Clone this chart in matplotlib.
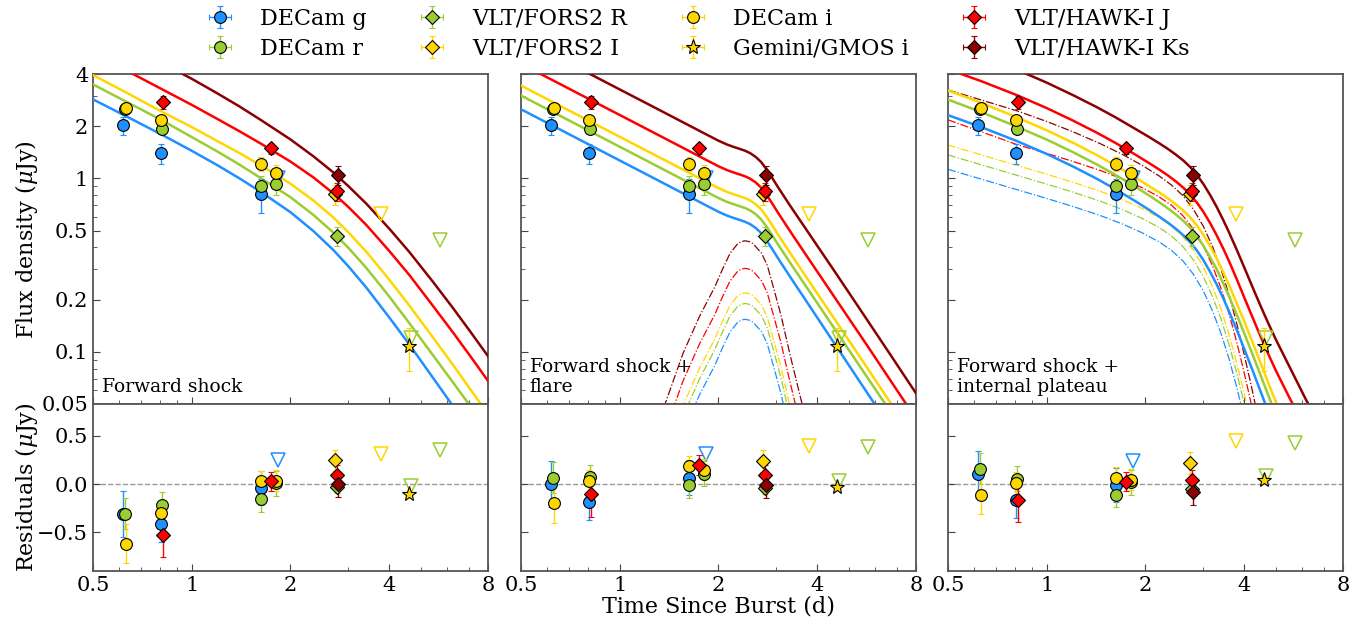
import matplotlib.pyplot as plt
import numpy as np
from matplotlib.ticker import FixedLocator, FixedFormatter, NullFormatter

plt.rcParams['font.family'] = 'DejaVu Serif'
plt.rcParams['mathtext.fontset'] = 'dejavuserif'

# band colours: g, r, i, J, Ks
c_g = '#1e90ff'
c_r = '#9acd32'
c_i = '#ffd700'
c_j = '#ff0000'
c_k = '#8b0000'
band_colors = [c_g, c_r, c_i, c_j, c_k]

# ---- photometry (days, uJy); residuals per panel [FS, FS+flare, FS+plateau]
g_t = [0.619, 0.806, 1.63]
g_f = [2.03, 1.40, 0.81]
g_e = [0.24, 0.19, 0.18]
g_res = [[-0.31, -0.41, -0.04], [0.0, -0.18, 0.065], [0.10, -0.16, -0.01]]

r_t = [0.625, 0.81, 1.63, 1.81]
r_f = [2.51, 1.94, 0.905, 0.93]
r_e = [0.16, 0.13, 0.13, 0.13]
r_res = [[-0.307, -0.213, -0.158, 0.01], [0.065, 0.07, -0.014, 0.107], [0.16, 0.055, -0.11, 0.02]]

i_t = [0.629, 0.807, 1.63, 1.81]
i_f = [2.56, 2.17, 1.22, 1.08]
i_e = [0.2, 0.12, 0.11, 0.11]
i_res = [[-0.617, -0.30, 0.028, 0.035], [-0.20, 0.03, 0.186, 0.15], [-0.11, 0.01, 0.065, 0.045]]

fr_t = [2.77]
fr_f = [0.467]
fr_e = [0.06]
fr_res = [[-0.031], [-0.04], [-0.05]]

fi_t = [2.73]
fi_f = [0.81]
fi_e = [0.11]
fi_res = [[0.245], [0.24], [0.22]]

j_t = [0.819, 1.75, 2.78]
j_f = [2.76, 1.49, 0.846]
j_e = [0.23, 0.1, 0.1]
j_res = [[-0.524, 0.028, 0.097], [-0.107, 0.197, 0.093], [-0.16, 0.024, 0.045]]

k_t = [2.80]
k_f = [1.05]
k_e = [0.13]
k_res = [[0.0], [-0.014], [-0.086]]

gm_t = [4.61]
gm_f = [0.108]
gm_e = [0.03]
gm_res = [[-0.10], [-0.03], [0.04]]

# upper limits
gul_t = [1.83]
gul_f = [1.0]
gul_res = [[0.245], [0.31], [0.24]]
rul_t = [4.65, 5.71]
rul_f = [0.12, 0.44]
rul_res = [[-0.02, 0.356], [0.03, 0.38], [0.08, 0.43]]
iul_t = [3.77]
iul_f = [0.62]
iul_res = [[0.315], [0.39], [0.45]]

# ---- model curves (g, r, i, J, Ks)
t_left = [0.5, 0.63, 0.81, 1.0, 1.2, 1.4, 1.63, 2.0, 2.35, 2.7, 3.0, 3.41, 4.0, 4.61, 5.45, 6.27, 7.05, 8.0]
fs_left = [
    [2.86, 2.29, 1.79, 1.445, 1.19, 1.0, 0.833, 0.639, 0.497, 0.3875, 0.312, 0.234, 0.158, 0.11,
     0.0704, 0.0484, 0.0352, 0.025],
    [3.49, 2.78, 2.17, 1.734, 1.428, 1.2, 1.0, 0.78, 0.616, 0.488, 0.399, 0.304, 0.2086, 0.146,
     0.095, 0.0663, 0.0489, 0.035],
    [3.95, 3.14, 2.43, 1.98, 1.64, 1.40, 1.183, 0.933, 0.746, 0.597, 0.49, 0.377, 0.261, 0.1845,
     0.1204, 0.0837, 0.0612, 0.0438],
    [5.29, 4.21, 3.28, 2.66, 2.2, 1.87, 1.583, 1.252, 1.014, 0.8215, 0.686, 0.538, 0.382, 0.277,
     0.183, 0.1287, 0.095, 0.068],
    [7.44, 5.95, 4.65, 3.76, 3.09, 2.6, 2.166, 1.68, 1.342, 1.085, 0.905, 0.714, 0.514, 0.376,
     0.252, 0.178, 0.1316, 0.0945],
]

t_mid = [0.5, 0.63, 0.81, 1.0, 1.24, 1.62, 1.85, 2.0, 2.12, 2.22, 2.32, 2.41, 2.5, 2.6, 2.7, 2.8,
         2.92, 3.05, 3.3, 3.54, 4.58, 5.66, 6.67, 8.0]
fs_mid = [
    [2.51, 2.0, 1.563, 1.271, 1.029, 0.791, 0.694, 0.643, 0.612, 0.593, 0.577, 0.563, 0.545, 0.518,
     0.484, 0.4415, 0.391, 0.343, 0.273, 0.2236, 0.1073, 0.0587, 0.0368, 0.0219],
    [3.01, 2.4, 1.876, 1.525, 1.235, 0.949, 0.833, 0.772, 0.734, 0.712, 0.692, 0.676, 0.654, 0.622,
     0.581, 0.53, 0.469, 0.412, 0.329, 0.27, 0.131, 0.0722, 0.0456, 0.0272],
    [3.44, 2.74, 2.141, 1.741, 1.41, 1.084, 0.951, 0.881, 0.838, 0.812, 0.79, 0.771, 0.747, 0.71,
     0.663, 0.605, 0.536, 0.47, 0.375, 0.307, 0.149, 0.0818, 0.0514, 0.0307],
    [4.59, 3.66, 2.86, 2.326, 1.883, 1.448, 1.27, 1.177, 1.12, 1.085, 1.056, 1.03, 0.997, 0.948,
     0.886, 0.808, 0.716, 0.628, 0.5, 0.41, 0.199, 0.110, 0.069, 0.0412],
    [6.45, 5.14, 4.017, 3.266, 2.645, 2.033, 1.784, 1.653, 1.573, 1.524, 1.483, 1.447, 1.4, 1.331,
     1.244, 1.135, 1.005, 0.882, 0.702, 0.577, 0.281, 0.1545, 0.097, 0.0578],
]
t_flare = [1.25, 1.374, 1.56, 1.75, 1.95, 2.05, 2.17, 2.29, 2.35, 2.41, 2.48, 2.55, 2.71, 2.82,
           2.94, 3.10, 3.30, 3.60, 3.85]
flare = [
    [0.00847, 0.01756, 0.0345, 0.0562, 0.0835, 0.1038, 0.1304, 0.1481, 0.1525, 0.154, 0.1525,
     0.1483, 0.1304, 0.1109, 0.0835, 0.0578, 0.0345, 0.01756, 0.00847],
    [0.01045, 0.02166, 0.0426, 0.0694, 0.103, 0.128, 0.161, 0.1828, 0.1881, 0.19, 0.1881, 0.183,
     0.161, 0.1368, 0.103, 0.0713, 0.0426, 0.02166, 0.01045],
    [0.01205, 0.025, 0.0491, 0.0799, 0.1187, 0.1476, 0.1855, 0.2107, 0.2168, 0.219, 0.2168, 0.2109,
     0.1855, 0.1577, 0.1187, 0.0821, 0.0491, 0.025, 0.01205],
    [0.01667, 0.0345, 0.0679, 0.1106, 0.1642, 0.2042, 0.2566, 0.2915, 0.3, 0.303, 0.3, 0.2918,
     0.2566, 0.2182, 0.1642, 0.1136, 0.0679, 0.0345, 0.01667],
    [0.02404, 0.0498, 0.0979, 0.1595, 0.2369, 0.2945, 0.3701, 0.4204, 0.4326, 0.437, 0.4326, 0.4208,
     0.3701, 0.3146, 0.2369, 0.1639, 0.0979, 0.0498, 0.02404],
]

t_right = [0.5, 0.63, 0.81, 1.0, 1.2, 1.42, 1.62, 1.85, 2.05, 2.21, 2.35, 2.48, 2.61, 2.74, 2.87,
           3.0, 3.15, 3.3, 3.45, 3.6, 3.8, 4.0, 4.25, 4.5, 4.75, 5.0, 5.5, 6.2, 7.0, 8.0]
fs_right = [
    [2.32, 1.983, 1.646, 1.385, 1.175, 0.997, 0.867, 0.746, 0.66, 0.60, 0.553, 0.511, 0.47, 0.428,
     0.384, 0.339, 0.289, 0.244, 0.204, 0.170, 0.133, 0.104, 0.0774, 0.0582, 0.0444, 0.0345,
     0.0221, 0.013, 0.0079, 0.0048],
    [2.854, 2.419, 1.992, 1.676, 1.422, 1.206, 1.049, 0.903, 0.799, 0.726, 0.669, 0.618, 0.569,
     0.518, 0.465, 0.41, 0.351, 0.298, 0.249, 0.208, 0.163, 0.128, 0.0956, 0.0722, 0.0553, 0.0431,
     0.0276, 0.0163, 0.0099, 0.006],
    [3.22, 2.737, 2.255, 1.897, 1.61, 1.366, 1.188, 1.022, 0.904, 0.828, 0.764, 0.708, 0.653, 0.595,
     0.535, 0.4745, 0.406, 0.344, 0.2885, 0.2415, 0.1892, 0.150, 0.1122, 0.085, 0.0652, 0.0511,
     0.0329, 0.0194, 0.0118, 0.0072],
    [4.27, 3.649, 3.029, 2.548, 2.162, 1.839, 1.604, 1.384, 1.228, 1.122, 1.036, 0.959, 0.884, 0.807,
     0.726, 0.644, 0.552, 0.4685, 0.395, 0.3315, 0.261, 0.206, 0.1563, 0.121, 0.0959, 0.0776,
     0.0541, 0.0351, 0.0237, 0.0158],
    [6.08, 5.156, 4.247, 3.573, 3.032, 2.582, 2.254, 1.947, 1.736, 1.59, 1.474, 1.369, 1.269, 1.162,
     1.048, 0.932, 0.802, 0.683, 0.577, 0.486, 0.386, 0.307, 0.2337, 0.1816, 0.1443, 0.1173,
     0.0818, 0.052, 0.0348, 0.023],
]
t_plat = [0.5, 0.81, 1.0, 1.2, 1.45, 1.7, 1.95, 2.2, 2.4, 2.6, 2.8, 3.0, 3.2, 3.4, 3.6, 3.8, 4.0,
          4.2, 4.45]
plateau = [
    [1.13, 0.863, 0.767, 0.69, 0.613, 0.547, 0.487, 0.431, 0.385, 0.335, 0.280, 0.225, 0.1725,
     0.1274, 0.0904, 0.0619, 0.0415, 0.0277, 0.0168],
    [1.367, 1.044, 0.928, 0.835, 0.742, 0.662, 0.589, 0.522, 0.466, 0.405, 0.339, 0.272, 0.2087,
     0.1542, 0.1094, 0.0749, 0.0502, 0.0335, 0.0203],
    [1.56, 1.191, 1.058, 0.952, 0.846, 0.755, 0.672, 0.595, 0.531, 0.462, 0.386, 0.3105, 0.238,
     0.1758, 0.1248, 0.0854, 0.0573, 0.0382, 0.0232],
    [2.18, 1.571, 1.396, 1.256, 1.116, 0.996, 0.886, 0.784, 0.701, 0.61, 0.51, 0.41, 0.314, 0.2319,
     0.1645, 0.1127, 0.0755, 0.0504, 0.0306],
    [3.243, 2.46, 2.132, 1.863, 1.594, 1.378, 1.193, 1.035, 0.917, 0.797, 0.664, 0.531, 0.406,
     0.299, 0.2116, 0.1442, 0.0963, 0.064, 0.0386],
]

panel_text = ['Forward shock', 'Forward shock +\nflare', 'Forward shock +\ninternal plateau']
x_ticks = [0.5, 1, 2, 4, 8]
x_minor = [0.6, 0.7, 0.8, 0.9, 3, 5, 6, 7]
y_ticks = [0.05, 0.1, 0.2, 0.5, 1, 2, 4]
y_minor = [0.06, 0.07, 0.08, 0.09, 0.3, 0.4, 0.6, 0.7, 0.8, 0.9, 3]

point_sets = [
    (g_t, g_f, g_e, g_res, c_g, 'o', 8.5, 'DECam g'),
    (r_t, r_f, r_e, r_res, c_r, 'o', 8.5, 'DECam r'),
    (fr_t, fr_f, fr_e, fr_res, c_r, 'D', 7, 'VLT/FORS2 R'),
    (fi_t, fi_f, fi_e, fi_res, c_i, 'D', 7, 'VLT/FORS2 I'),
    (i_t, i_f, i_e, i_res, c_i, 'o', 8.5, 'DECam i'),
    (gm_t, gm_f, gm_e, gm_res, c_i, '*', 11, 'Gemini/GMOS i'),
    (j_t, j_f, j_e, j_res, c_j, 'D', 7, 'VLT/HAWK-I J'),
    (k_t, k_f, k_e, k_res, c_k, 'D', 7, 'VLT/HAWK-I Ks'),
]
limit_sets = [(gul_t, gul_f, gul_res, c_g), (rul_t, rul_f, rul_res, c_r), (iul_t, iul_f, iul_res, c_i)]


def add_points(ax, k, resid):
    hands = []
    for t, f, e, res, col, mk, ms, lab in point_sets:
        y = res[k] if resid else f
        h = ax.errorbar(t, y, yerr=e, xerr=[0.012] * len(t), fmt=mk, ms=ms, mfc=col, mec='k',
                        mew=0.8, ecolor=col, elinewidth=1.0, capsize=2, capthick=1.0,
                        label=lab, zorder=6)
        hands.append(h)
    for t, f, res, col in limit_sets:
        y = res[k] if resid else f
        ax.plot(t, y, 'v', ms=10, mfc='none', mec=col, mew=1.1, zorder=4)
    return hands


def style(ax, left_labels):
    ax.set_xscale('log')
    ax.set_xlim(0.5, 8)
    ax.xaxis.set_major_locator(FixedLocator(x_ticks))
    ax.xaxis.set_minor_locator(FixedLocator(x_minor))
    ax.xaxis.set_minor_formatter(NullFormatter())
    ax.tick_params(which='both', direction='in', labelsize=15, color='#444444')
    ax.tick_params(which='major', length=5)
    ax.tick_params(which='minor', length=3)
    for s in ax.spines.values():
        s.set_color('#555555')
        s.set_linewidth(1.3)
    if not left_labels:
        ax.tick_params(labelleft=False)


fig = plt.figure(figsize=(13.68, 6.2), dpi=100)
panel_x = [0.068, 0.3808, 0.693]
w = 0.2887

models = [(t_left, fs_left), (t_mid, fs_mid), (t_right, fs_right)]
handles = None
for k, x0 in enumerate(panel_x):
    at = fig.add_axes([x0, 0.3484, w, 0.532])
    ab = fig.add_axes([x0, 0.079, w, 0.2694])

    tg, curves = models[k]
    for col, f in zip(band_colors, curves):
        at.plot(tg, f, '-', color=col, lw=1.8, zorder=3)
    if k == 1:
        for col, f in zip(band_colors, flare):
            at.plot(t_flare, f, '-.', color=col, lw=0.9, zorder=2)
    if k == 2:
        for col, f in zip(band_colors, plateau):
            at.plot(t_plat, f, '-.', color=col, lw=0.9, zorder=2)

    h = add_points(at, k, False)
    if handles is None:
        handles = h
    add_points(ab, k, True)
    ab.axhline(0, color='#999999', ls='--', lw=1.0, zorder=1)

    style(at, k == 0)
    style(ab, k == 0)
    at.set_yscale('log')
    at.set_ylim(0.05, 4)
    at.yaxis.set_major_locator(FixedLocator(y_ticks))
    at.yaxis.set_major_formatter(FixedFormatter(['0.05', '0.1', '0.2', '0.5', '1', '2', '4']))
    at.yaxis.set_minor_locator(FixedLocator(y_minor))
    at.yaxis.set_minor_formatter(NullFormatter())
    at.tick_params(labelbottom=False)
    ab.set_ylim(-0.9, 0.83)
    ab.yaxis.set_major_locator(FixedLocator([-0.5, 0.0, 0.5]))
    ab.yaxis.set_major_formatter(FixedFormatter(['\u22120.5', '0.0', '0.5']))
    ab.xaxis.set_major_formatter(FixedFormatter(['0.5', '1', '2', '4', '8']))

    at.text(0.022, 0.025, panel_text[k], transform=at.transAxes, fontsize=13.5,
            ha='left', va='bottom', linespacing=1.1)

fig.text(0.0197, 0.6145, 'Flux density ($\\mu$Jy)', rotation=90, ha='center', va='center', fontsize=16)
fig.text(0.0197, 0.2137, 'Residuals ($\\mu$Jy)', rotation=90, ha='center', va='center', fontsize=16)
fig.text(0.525, 0.022, 'Time Since Burst (d)', ha='center', va='center', fontsize=16)

labels = [p[7] for p in point_sets]
fig.legend(handles, labels, loc='upper center', ncol=4, frameon=False, fontsize=16,
           bbox_to_anchor=(0.507, 1.02), columnspacing=1.95, handletextpad=0.8, labelspacing=0.36)

fig.savefig('out.png', dpi=100)
